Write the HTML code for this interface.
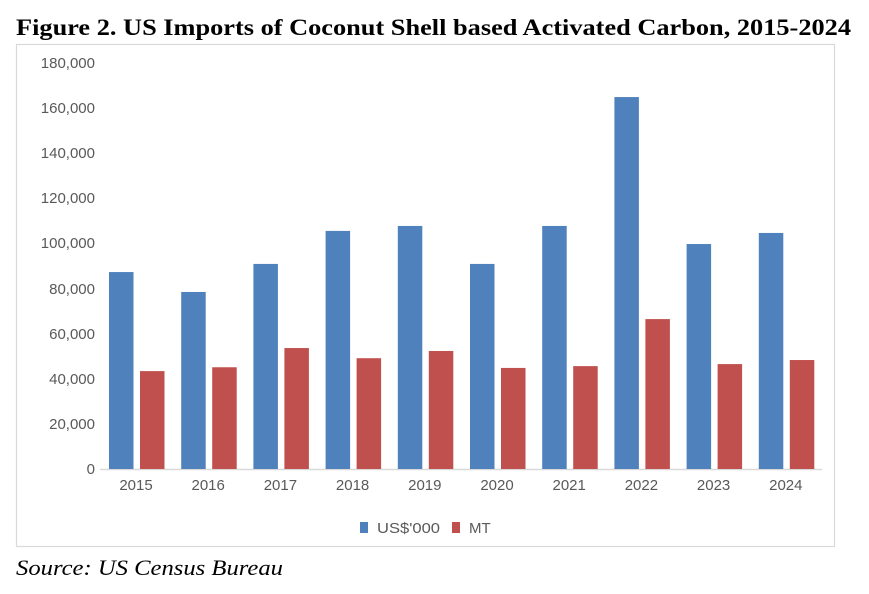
<!DOCTYPE html>
<html><head><meta charset="utf-8"><style>
body{margin:0;background:#fff;width:869px;height:589px;overflow:hidden}
</style></head><body>
<svg width="869" height="589" xmlns="http://www.w3.org/2000/svg" font-family="Liberation Sans, sans-serif">
<text x="16" y="35" font-family="Liberation Serif, serif" font-weight="bold" font-size="23.5" fill="#000" textLength="835" lengthAdjust="spacingAndGlyphs">Figure 2. US Imports of Coconut Shell based Activated Carbon, 2015-2024</text>
<rect x="16.5" y="44.5" width="818" height="502" fill="#fff" stroke="#d9d9d9" stroke-width="1.2"/>
<g font-size="15" fill="#595959" text-anchor="end">
<text x="95" y="68">180,000</text><text x="95" y="113">160,000</text><text x="95" y="158">140,000</text>
<text x="95" y="203">120,000</text><text x="95" y="248">100,000</text><text x="95" y="294">80,000</text>
<text x="95" y="339">60,000</text><text x="95" y="384">40,000</text><text x="95" y="429">20,000</text>
<text x="95" y="474">0</text>
</g>
<line x1="100" y1="469.5" x2="822" y2="469.5" stroke="#d9d9d9" stroke-width="1.5"/>
<g id="bars"></g>
<g font-size="15" fill="#595959" text-anchor="middle" id="xl"></g>
<rect x="360" y="522" width="8" height="11" fill="#4f81bd"/>
<text x="377" y="533" font-size="15" fill="#595959" textLength="63" lengthAdjust="spacingAndGlyphs">US$'000</text>
<rect x="452" y="522" width="8" height="11" fill="#c0504d"/>
<text x="469" y="533" font-size="15" fill="#595959">MT</text>
<text x="16" y="575" font-family="Liberation Serif, serif" font-style="italic" font-size="22" fill="#000" textLength="267" lengthAdjust="spacingAndGlyphs">Source: US Census Bureau</text>
<script>
var b=[87.1,78.3,90.7,105.3,107.5,90.7,107.5,164.5,99.5,104.4],r=[43.3,45,53.5,49,52.2,44.7,45.5,66.3,46.4,48.2];
var g=document.getElementById('bars'),xl=document.getElementById('xl'),ns='http://www.w3.org/2000/svg';
for(var i=0;i<10;i++){var x=109+i*72.2;
[[b[i],x,'#4f81bd'],[r[i],x+31,'#c0504d']].forEach(function(d){var e=document.createElementNS(ns,'rect');var h=d[0]*2.261;
e.setAttribute('x',d[1]);e.setAttribute('y',469-h);e.setAttribute('width',24.5);e.setAttribute('height',h);e.setAttribute('fill',d[2]);g.appendChild(e);});
var t=document.createElementNS(ns,'text');t.setAttribute('x',x+27);t.setAttribute('y',490);t.textContent=2015+i;xl.appendChild(t);}
</script>
</svg>
</body></html>
